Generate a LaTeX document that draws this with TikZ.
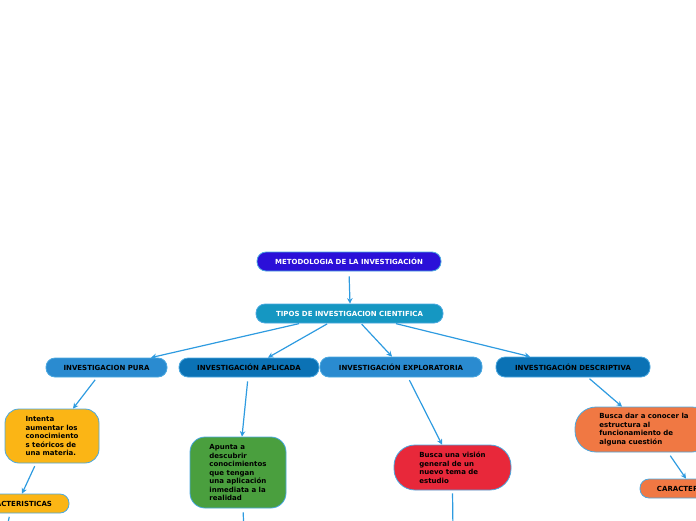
\documentclass[tikz,border=0pt]{standalone}
\usepackage{fontspec}
\setmainfont{DejaVu Sans}
\usetikzlibrary{arrows.meta}
\definecolor{cmeta}{HTML}{2B10D8}
\definecolor{ctipos}{HTML}{1597C2}
\definecolor{cmid}{HTML}{2A8BD0}
\definecolor{cdark}{HTML}{0B72B5}
\definecolor{camber}{HTML}{FBB515}
\definecolor{cgreen}{HTML}{4A9F3E}
\definecolor{cred}{HTML}{E8283A}
\definecolor{corange}{HTML}{F07843}
\definecolor{cline}{HTML}{2E9BE0}
\definecolor{cborder}{HTML}{4AA8E0}
\tikzset{
  base/.style={draw=cborder, line width=0.8pt, inner sep=0pt, font=\fontsize{7}{8.5}\selectfont\bfseries},
  pill/.style={base, rounded corners=9pt, minimum height=19pt},
  bubble/.style={base, align=left},
  conn/.style={draw=cline, line width=1.2pt, -{Stealth[length=5.5pt,width=5.5pt]}},
  connfree/.style={draw=cline, line width=1.2pt},
}
\begin{document}
\begin{tikzpicture}[x=1pt,y=-1pt]
\useasboundingbox (0,0) rectangle (696,520);
\clip (0,0) rectangle (696,520);
% top level
\node[pill, fill=cmeta, text=white, minimum width=184pt] (meta) at (349,261.5) {METODOLOGIA DE LA INVESTIGACIÓN};
\node[pill, fill=ctipos, text=white, minimum width=187pt] (tipos) at (349.5,313.5) {TIPOS DE INVESTIGACION CIENTIFICA};
% second level
\node[pill, fill=cmid, minimum width=121pt] (pura) at (106.5,367.5) {INVESTIGACION PURA};
\node[pill, fill=cdark, minimum width=140pt] (aplicada) at (249,367.5) {INVESTIGACIÓN APLICADA};
\node[pill, fill=cmid, minimum width=162pt, minimum height=20pt] (explor) at (401,367) {INVESTIGACIÓN EXPLORATORIA};
\node[pill, fill=cdark, minimum width=154pt, minimum height=20pt] (descr) at (573,367) {INVESTIGACIÓN DESCRIPTIVA};
% third level
\node[bubble, fill=camber, rounded corners=14pt, minimum width=94pt, minimum height=54pt] (intenta) at (52,436)
  {Intenta\\aumentar los\\conocimiento\\s teóricos de\\una materia.};
\node[bubble, fill=cgreen, rounded corners=15pt, minimum width=96pt, minimum height=71pt] (apunta) at (238,472.5)
  {Apunta a\\descubrir\\conocimientos\\que tengan\\una aplicación\\inmediata a la\\realidad};
\node[bubble, fill=cred, rounded corners=21pt, minimum width=117pt, minimum height=45pt] (busca) at (452.5,467.5)
  {Busca una visión\\general de un\\nuevo tema de\\estudio};
\node[bubble, fill=corange, rounded corners=21pt, minimum width=138pt, minimum height=45pt] (buscadar) at (644,429.5)
  {Busca dar a conocer la\\estructura al\\funcionamiento de\\alguna cuestión};
% fourth level
\node[pill, fill=camber, minimum width=106pt] (caractA) at (16,503.5) {CARACTERISTICAS};
\node[pill, fill=corange, minimum width=106pt] (caractB) at (693,488.5) {CARACTERISTICAS};
% free ends
\coordinate (offA) at (6,532);
\coordinate (offB) at (244,532);
\coordinate (offC) at (453,532);
% connectors
\draw[conn, shorten <=5pt] (meta.south) -- ([xshift=0.5pt]tipos.north);
\draw[conn, shorten <=1pt] ([xshift=-49.5pt]tipos.south) -- ([xshift=44.5pt]pura.north);
\draw[conn, shorten <=1pt] ([xshift=-21.5pt]tipos.south) -- ([xshift=19pt]aplicada.north);
\draw[conn, shorten <=1pt] ([xshift=11.5pt]tipos.south) -- ([xshift=-9pt]explor.north);
\draw[conn, shorten <=1pt] ([xshift=45.5pt]tipos.south) -- ([xshift=-43pt]descr.north);
\draw[conn, shorten <=3pt] ([xshift=-9.5pt]pura.south) -- ([xshift=21pt]intenta.north);
\draw[conn, shorten <=4pt] ([xshift=-1pt]aplicada.south) -- ([xshift=4pt]apunta.north);
\draw[conn, shorten <=3pt] ([xshift=7pt]explor.south) -- ([xshift=-10.5pt]busca.north);
\draw[conn, shorten <=2pt] ([xshift=15pt]descr.south) -- ([xshift=-22pt]buscadar.north);
\draw[conn, shorten <=3pt] ([xshift=-16pt]intenta.south) -- ([xshift=6pt]caractA.north);
\draw[conn, shorten <=4pt] ([xshift=24pt]buscadar.south) -- ([xshift=-7pt]caractB.north);
\draw[connfree, shorten <=3.5pt] ([xshift=-6pt]caractA.south) -- (offA);
\draw[connfree, shorten <=4pt] ([xshift=5pt]apunta.south) -- (offB);
\draw[connfree, shorten <=3pt] (busca.south) -- (offC);
\end{tikzpicture}
\end{document}
